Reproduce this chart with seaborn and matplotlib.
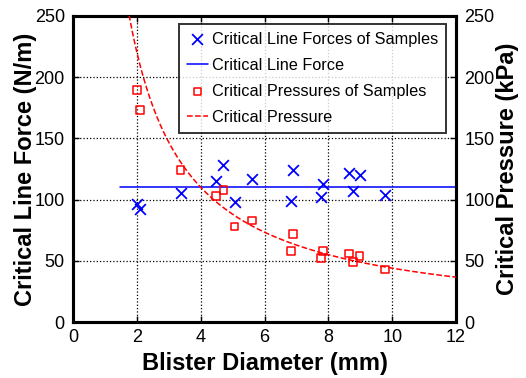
import numpy as np
import pandas as pd
import matplotlib
matplotlib.use("Agg")
import matplotlib.pyplot as plt
import seaborn as sns

# ── data ─────────────────────────────────────────────────────
diameter_mm = [2.0, 2.1, 3.37, 4.47, 4.71, 5.06, 5.6, 6.83, 6.89,
               7.77, 7.83, 8.64, 8.77, 8.98, 9.78]
line_force = [96, 92, 105, 115, 128, 98, 117, 99, 124,
              102, 113, 121.5, 107, 120, 104]
pressure = [189.5, 173, 124, 103, 108, 78, 83, 58, 72,
            52.5, 58, 56, 49, 54, 43]

CRIT_FORCE = 110          # N/m, critical line force
force_range = [1.47, 12]  # extent of the horizontal line
curve_range = [1.5, 12]   # extent of the pressure curve

x_ticks = [0, 2, 4, 6, 8, 10, 12]
y_ticks = [0, 50, 100, 150, 200, 250]

samples = pd.DataFrame({"d": diameter_mm, "F": line_force, "P": pressure})
d_curve = np.linspace(curve_range[0], curve_range[1], 300)
curve = pd.DataFrame({"d": d_curve, "P": 4 * CRIT_FORCE / d_curve})
flat = pd.DataFrame({"d": force_range, "F": [CRIT_FORCE] * 2})

sns.set_style("white")
plt.rcParams["font.family"] = ["Liberation Sans", "DejaVu Sans"]
plt.rcParams["text.color"] = "black"
plt.rcParams["axes.labelcolor"] = "black"

fig = plt.figure(figsize=(5.26, 3.78), dpi=100)
ax = fig.add_axes([0.139, 0.148, 0.728, 0.810])
ax2 = ax.twinx()

sns.scatterplot(data=samples, x="d", y="F", ax=ax, marker="x", color="blue",
                s=60, linewidth=1.3, label="Critical Line Forces of Samples",
                legend=False, zorder=4)
sns.lineplot(data=flat, x="d", y="F", ax=ax, color="blue", linewidth=1.1,
             label="Critical Line Force", legend=False, zorder=3)
sns.scatterplot(data=samples, x="d", y="P", ax=ax2, marker="s",
                facecolor="none", edgecolor="red", s=30, linewidth=1.1,
                label="Critical Pressures of Samples", legend=False, zorder=4)
sns.lineplot(data=curve, x="d", y="P", ax=ax2, color="red", linewidth=1.1,
             linestyle="--", label="Critical Pressure", legend=False, zorder=3)

for a in (ax, ax2):
    a.set_xlim(0, 12)
    a.set_ylim(0, 250)
    a.set_yticks(y_ticks)
    for s in a.spines.values():
        s.set_linewidth(2.2)
        s.set_color("black")
    a.tick_params(axis="y", direction="in", length=4, width=1, labelsize=13,
                  colors="black", pad=6)

ax.set_xticks(x_ticks)
ax.tick_params(axis="x", direction="in", length=4, width=1, labelsize=13,
               colors="black", pad=5, top=True, bottom=True)
ax.grid(True, color="black", linestyle=":", linewidth=0.9)
ax.set_axisbelow(True)

ax.set_xlabel("Blister Diameter (mm)", fontsize=17, fontweight="bold", labelpad=4)
ax.set_ylabel("Critical Line Force (N/m)", fontsize=17, fontweight="bold", labelpad=-2)
ax2.set_ylabel("Critical Pressure (kPa)", fontsize=17, fontweight="bold", labelpad=1)

h1, l1 = ax.get_legend_handles_labels()
h2, l2 = ax2.get_legend_handles_labels()
leg = ax2.legend(h1 + h2, l1 + l2, loc="upper right", fontsize=11.7,
                 frameon=True, fancybox=False, edgecolor="black",
                 bbox_to_anchor=(0.975, 0.975), borderpad=0.5,
                 handlelength=1.3, labelspacing=0.68, handletextpad=0.25,
                 borderaxespad=0)
leg.get_frame().set_linewidth(1.4)
leg.set_zorder(10)

fig.savefig("out.png", dpi=100)
